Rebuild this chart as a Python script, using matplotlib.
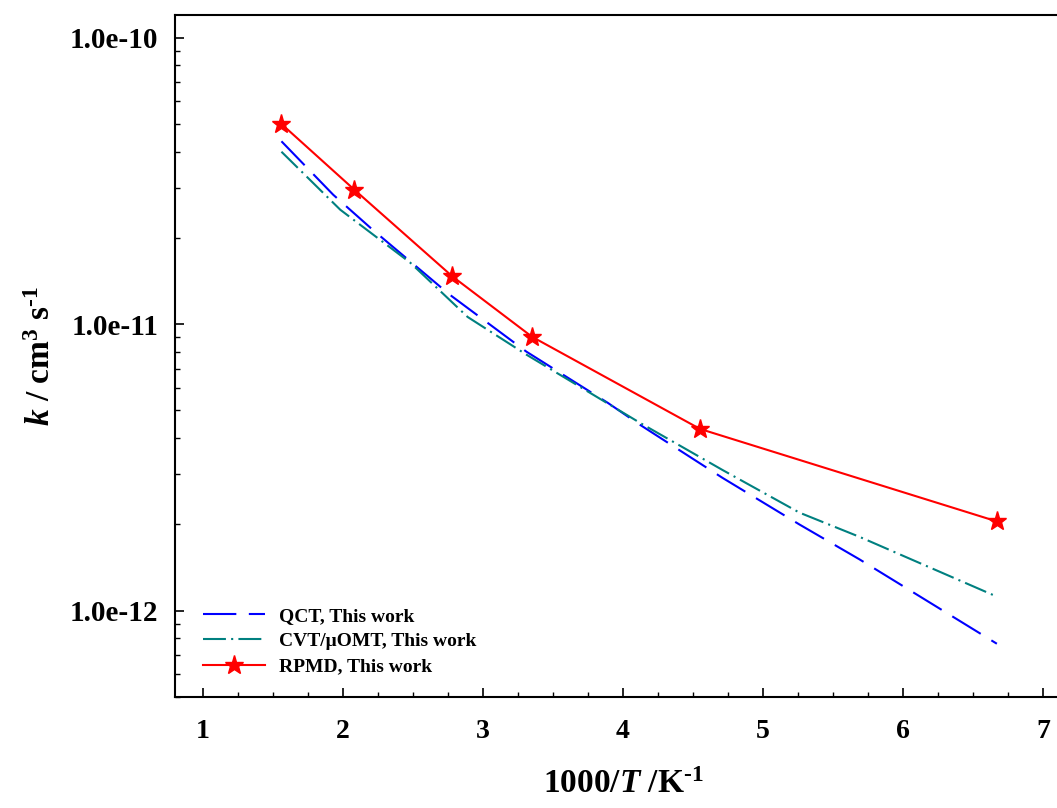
import matplotlib
matplotlib.use('Agg')
import matplotlib.pyplot as plt
from matplotlib.ticker import MultipleLocator, LogLocator, FuncFormatter, NullFormatter

plt.rcParams['font.family'] = ['Liberation Serif', 'DejaVu Serif']
plt.rcParams['font.weight'] = 'bold'
plt.rcParams['mathtext.fontset'] = 'custom'
plt.rcParams['mathtext.rm'] = 'Liberation Serif:bold'
plt.rcParams['mathtext.it'] = 'Liberation Serif:italic:bold'
plt.rcParams['mathtext.bf'] = 'Liberation Serif:bold'

# RPMD rate constants
rpmd_x = [1.56, 2.08, 2.78, 3.35, 4.55, 6.67]
rpmd_k = [5.0e-11, 2.95e-11, 1.47e-11, 9.04e-12, 4.31e-12, 2.05e-12]

# QCT curve
qct_x = [1.56, 1.93, 2.21, 2.76, 3.31, 3.89, 4.12, 4.71, 5.26, 5.69, 6.67]
qct_k = [4.35e-11, 2.83e-11, 2.14e-11, 1.27e-11, 8.02e-12, 5.32e-12,
         4.46e-12, 2.91e-12, 2.0e-12, 1.51e-12, 7.67e-13]

# CVT/muOMT curve
cvt_x = [1.56, 1.98, 2.48, 2.89, 3.31, 4.12, 4.71, 5.26, 5.69, 6.67]
cvt_k = [4.0e-11, 2.51e-11, 1.64e-11, 1.06e-11, 7.83e-12, 4.53e-12,
         3.10e-12, 2.2e-12, 1.81e-12, 1.12e-12]

fig = plt.figure(figsize=(10.57, 8.08), dpi=100)
ax = fig.add_axes([0.1656, 0.1374, 0.8477, 0.844])

ax.plot(qct_x, qct_k, color='#0000ff', lw=1.5, dashes=(16, 6),
        label='QCT, This work')
ax.plot(cvt_x, cvt_k, color='#008080', lw=1.5, dashes=(11, 2.5, 1, 2.5),
        label='CVT/\u03bcOMT, This work')
ax.plot(rpmd_x, rpmd_k, color='#ff0000', lw=1.5, marker='*', ms=14,
        label='RPMD, This work')

ax.set_yscale('log')
ax.set_xlim(0.8, 7.2)
ax.set_ylim(5.0e-13, 1.2e-10)

ax.xaxis.set_major_locator(MultipleLocator(1))
ax.xaxis.set_minor_locator(MultipleLocator(0.25))
ax.yaxis.set_major_locator(LogLocator(base=10))
ax.yaxis.set_minor_locator(LogLocator(base=10, subs=range(2, 10)))
ax.yaxis.set_major_formatter(FuncFormatter(lambda v, p: f'{v:.1e}'))
ax.yaxis.set_minor_formatter(NullFormatter())

ax.tick_params(which='both', direction='in', top=False, right=False)
ax.tick_params(which='major', length=6.5, width=1.2, labelsize=20)
ax.tick_params(axis='y', which='major', labelsize=21, pad=12)
ax.tick_params(axis='x', which='major', pad=16)
ax.tick_params(which='minor', length=3.5, width=1.0)
for s in ax.spines.values():
    s.set_linewidth(1.5)

ax.set_xlabel('1000/$T$ /K$^{\u2010 1}$', fontsize=24, fontweight='bold', labelpad=18)
ax.set_ylabel('$k$ / cm$^3$ s$^{\u2010 1}$', fontsize=24, fontweight='bold', labelpad=9)

ax.legend(loc='lower left', bbox_to_anchor=(0.0225, 0.02), frameon=False,
          prop={'size': 14, 'weight': 'bold'}, handlelength=3.2,
          handletextpad=0.7, labelspacing=0.4, borderaxespad=0)

fig.savefig('out.png', dpi=100)
